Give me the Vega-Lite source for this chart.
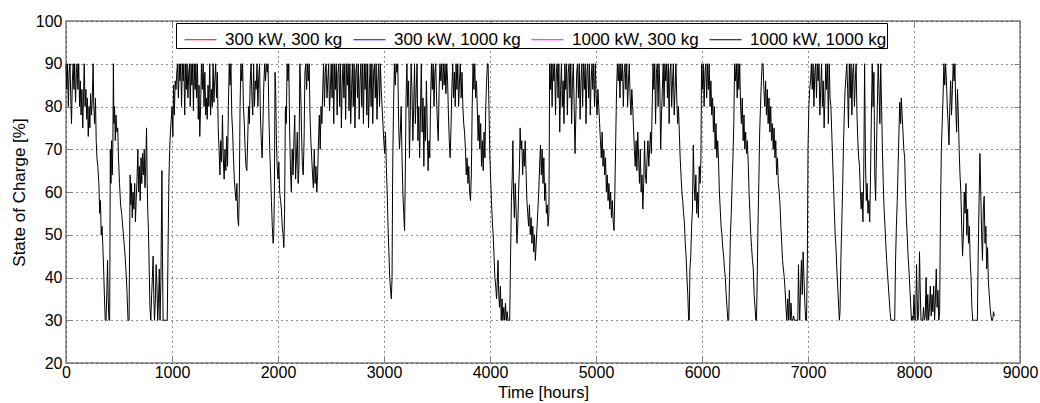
{
  "$schema": "https://vega.github.io/schema/vega-lite/v6.json",
  "width": 954,
  "height": 342,
  "autosize": {"type": "none"},
  "padding": {"left": 66, "top": 21, "right": 20, "bottom": 40},
  "background": "white",
  "config": {
    "view": {"stroke": "#808080", "strokeWidth": 1.5},
    "font": "Liberation Sans"
  },
  "data": {"values": [
{"t":0,"v":90},{"t":8,"v":84},{"t":15,"v":90},{"t":22,"v":80},{"t":30,"v":88},{"t":38,"v":90},{"t":45,"v":82},{"t":52,"v":76},{"t":60,"v":86},{"t":68,"v":90},{"t":75,"v":84},{"t":82,"v":90},{"t":90,"v":81},{"t":98,"v":88},{"t":105,"v":90},{"t":112,"v":84},{"t":120,"v":90},{"t":128,"v":80},{"t":135,"v":86},{"t":142,"v":78},{"t":150,"v":84},{"t":158,"v":75},{"t":165,"v":82},{"t":172,"v":90},{"t":180,"v":80},{"t":188,"v":84},{"t":195,"v":77},{"t":202,"v":82},{"t":210,"v":73},{"t":218,"v":80},{"t":225,"v":75},{"t":232,"v":83},{"t":240,"v":78},{"t":248,"v":82},{"t":256,"v":90},{"t":262,"v":80},{"t":270,"v":76},{"t":278,"v":82},{"t":285,"v":72},{"t":292,"v":68},{"t":300,"v":66},{"t":310,"v":62},{"t":318,"v":55},{"t":325,"v":58},{"t":332,"v":50},{"t":340,"v":52},{"t":348,"v":47},{"t":355,"v":42},{"t":362,"v":36},{"t":370,"v":30},{"t":378,"v":30},{"t":386,"v":37},{"t":392,"v":44},{"t":398,"v":35},{"t":405,"v":30},{"t":412,"v":30},{"t":418,"v":70},{"t":424,"v":62},{"t":430,"v":72},{"t":436,"v":64},{"t":442,"v":70},{"t":447,"v":90},{"t":452,"v":76},{"t":458,"v":80},{"t":465,"v":72},{"t":472,"v":78},{"t":480,"v":74},{"t":488,"v":75},{"t":495,"v":68},{"t":505,"v":62},{"t":515,"v":57},{"t":525,"v":55},{"t":535,"v":52},{"t":545,"v":49},{"t":555,"v":46},{"t":565,"v":42},{"t":575,"v":37},{"t":585,"v":30},{"t":595,"v":30},{"t":605,"v":64},{"t":612,"v":57},{"t":618,"v":62},{"t":625,"v":54},{"t":632,"v":60},{"t":640,"v":56},{"t":648,"v":62},{"t":655,"v":53},{"t":662,"v":58},{"t":670,"v":63},{"t":678,"v":70},{"t":685,"v":60},{"t":692,"v":66},{"t":700,"v":58},{"t":708,"v":68},{"t":715,"v":62},{"t":722,"v":69},{"t":730,"v":64},{"t":738,"v":70},{"t":745,"v":61},{"t":752,"v":66},{"t":760,"v":75},{"t":766,"v":62},{"t":772,"v":55},{"t":778,"v":51},{"t":785,"v":42},{"t":792,"v":33},{"t":800,"v":30},{"t":808,"v":36},{"t":815,"v":40},{"t":822,"v":45},{"t":828,"v":36},{"t":835,"v":30},{"t":842,"v":34},{"t":850,"v":43},{"t":858,"v":38},{"t":865,"v":30},{"t":872,"v":34},{"t":880,"v":42},{"t":887,"v":30},{"t":895,"v":39},{"t":905,"v":65},{"t":910,"v":45},{"t":916,"v":30},{"t":925,"v":30},{"t":935,"v":30},{"t":945,"v":30},{"t":955,"v":30},{"t":962,"v":45},{"t":970,"v":62},{"t":978,"v":70},{"t":985,"v":74},{"t":993,"v":77},{"t":1000,"v":80},{"t":1008,"v":73},{"t":1015,"v":85},{"t":1022,"v":78},{"t":1030,"v":86},{"t":1038,"v":84},{"t":1045,"v":88},{"t":1052,"v":90},{"t":1060,"v":82},{"t":1068,"v":90},{"t":1075,"v":86},{"t":1082,"v":90},
{"t":1090,"v":80},{"t":1098,"v":90},{"t":1105,"v":86},{"t":1112,"v":90},{"t":1120,"v":78},{"t":1128,"v":90},{"t":1135,"v":84},{"t":1142,"v":90},{"t":1150,"v":82},{"t":1158,"v":88},{"t":1165,"v":90},{"t":1172,"v":80},{"t":1180,"v":90},{"t":1188,"v":85},{"t":1195,"v":90},{"t":1202,"v":79},{"t":1210,"v":90},{"t":1218,"v":84},{"t":1225,"v":90},{"t":1232,"v":82},{"t":1240,"v":90},{"t":1248,"v":77},{"t":1255,"v":85},{"t":1262,"v":73},{"t":1270,"v":80},{"t":1278,"v":90},{"t":1286,"v":84},{"t":1294,"v":90},{"t":1302,"v":80},{"t":1310,"v":88},{"t":1318,"v":78},{"t":1325,"v":82},{"t":1332,"v":77},{"t":1340,"v":85},{"t":1348,"v":80},{"t":1356,"v":90},{"t":1364,"v":78},{"t":1372,"v":84},{"t":1380,"v":80},{"t":1388,"v":90},{"t":1396,"v":81},{"t":1404,"v":86},{"t":1412,"v":90},{"t":1420,"v":82},{"t":1428,"v":88},{"t":1436,"v":75},{"t":1444,"v":70},{"t":1452,"v":64},{"t":1460,"v":72},{"t":1468,"v":67},{"t":1476,"v":78},{"t":1484,"v":68},{"t":1492,"v":63},{"t":1500,"v":70},{"t":1508,"v":65},{"t":1516,"v":73},{"t":1524,"v":66},{"t":1532,"v":80},{"t":1540,"v":90},{"t":1548,"v":85},{"t":1556,"v":90},{"t":1564,"v":78},{"t":1572,"v":74},{"t":1580,"v":68},{"t":1588,"v":63},{"t":1596,"v":60},{"t":1604,"v":58},{"t":1612,"v":62},{"t":1620,"v":54},{"t":1628,"v":52},{"t":1635,"v":60},{"t":1642,"v":80},{"t":1650,"v":90},{"t":1658,"v":86},{"t":1666,"v":90},{"t":1674,"v":80},{"t":1682,"v":76},{"t":1690,"v":70},{"t":1698,"v":66},{"t":1706,"v":65},{"t":1714,"v":72},{"t":1722,"v":80},{"t":1730,"v":76},{"t":1738,"v":86},{"t":1746,"v":90},{"t":1754,"v":82},{"t":1762,"v":78},{"t":1770,"v":90},{"t":1778,"v":80},{"t":1786,"v":86},{"t":1794,"v":84},{"t":1802,"v":90},{"t":1810,"v":80},{"t":1818,"v":87},{"t":1826,"v":90},{"t":1834,"v":78},{"t":1842,"v":72},{"t":1850,"v":68},{"t":1858,"v":76},{"t":1866,"v":85},{"t":1874,"v":90},{"t":1882,"v":86},{"t":1890,"v":90},{"t":1898,"v":88},{"t":1906,"v":90},{"t":1914,"v":78},{"t":1922,"v":70},{"t":1930,"v":64},{"t":1938,"v":58},{"t":1946,"v":52},{"t":1954,"v":48},{"t":1960,"v":50},{"t":1966,"v":60},{"t":1972,"v":88},{"t":1978,"v":84},{"t":1985,"v":72},{"t":1992,"v":66},{"t":2000,"v":63},{"t":2008,"v":67},{"t":2016,"v":60},{"t":2024,"v":58},{"t":2032,"v":56},{"t":2040,"v":52},{"t":2048,"v":50},{"t":2055,"v":47},{"t":2062,"v":55},{"t":2070,"v":80},{"t":2078,"v":76},{"t":2086,"v":90},{"t":2094,"v":86},{"t":2102,"v":90},{"t":2110,"v":74},{"t":2118,"v":65},{"t":2126,"v":60},{"t":2134,"v":70},{"t":2142,"v":64},{"t":2150,"v":72},{"t":2158,"v":78},{"t":2166,"v":63},{"t":2174,"v":68},{"t":2182,"v":74},{"t":2190,"v":62},{"t":2198,"v":66},{"t":2206,"v":90},{"t":2214,"v":84},{"t":2222,"v":74},{"t":2230,"v":66},{"t":2238,"v":64},{"t":2246,"v":72},{"t":2254,"v":88},{"t":2262,"v":90},{"t":2270,"v":84},{"t":2278,"v":90},{"t":2286,"v":86},{"t":2294,"v":90},{"t":2302,"v":78},{"t":2310,"v":72},{"t":2318,"v":68},{"t":2326,"v":64},{"t":2334,"v":61},{"t":2342,"v":70},{"t":2350,"v":62},{"t":2358,"v":66},{"t":2366,"v":60},{"t":2374,"v":64},{"t":2382,"v":72},{"t":2390,"v":78},{"t":2398,"v":70},{"t":2406,"v":80},{"t":2414,"v":76},{"t":2422,"v":84},{"t":2430,"v":90},{"t":2438,"v":80},{"t":2446,"v":88},{"t":2454,"v":90},{"t":2462,"v":82},{"t":2470,"v":86},{"t":2478,"v":90},{"t":2486,"v":79},{"t":2494,"v":84},{"t":2502,"v":90},
{"t":2510,"v":82},{"t":2518,"v":90},{"t":2526,"v":76},{"t":2534,"v":90},{"t":2542,"v":84},{"t":2550,"v":90},{"t":2558,"v":78},{"t":2566,"v":88},{"t":2574,"v":90},{"t":2582,"v":80},{"t":2590,"v":90},{"t":2598,"v":75},{"t":2606,"v":86},{"t":2614,"v":90},{"t":2622,"v":82},{"t":2630,"v":90},{"t":2638,"v":77},{"t":2646,"v":90},{"t":2654,"v":85},{"t":2662,"v":90},{"t":2670,"v":79},{"t":2678,"v":90},{"t":2686,"v":76},{"t":2694,"v":84},{"t":2702,"v":90},{"t":2710,"v":80},{"t":2718,"v":90},{"t":2726,"v":75},{"t":2734,"v":88},{"t":2742,"v":90},{"t":2750,"v":82},{"t":2758,"v":90},{"t":2766,"v":77},{"t":2774,"v":86},{"t":2782,"v":90},{"t":2790,"v":80},{"t":2798,"v":90},{"t":2806,"v":76},{"t":2814,"v":90},{"t":2822,"v":84},{"t":2830,"v":90},{"t":2838,"v":78},{"t":2846,"v":90},{"t":2854,"v":75},{"t":2862,"v":84},{"t":2870,"v":90},{"t":2878,"v":80},{"t":2886,"v":90},{"t":2894,"v":76},{"t":2902,"v":88},{"t":2910,"v":90},{"t":2918,"v":82},{"t":2926,"v":90},{"t":2934,"v":77},{"t":2942,"v":86},{"t":2950,"v":90},{"t":2958,"v":80},{"t":2966,"v":90},{"t":2974,"v":84},{"t":2982,"v":80},{"t":2990,"v":76},{"t":2998,"v":72},{"t":3006,"v":69},{"t":3014,"v":74},{"t":3022,"v":66},{"t":3030,"v":60},{"t":3038,"v":52},{"t":3046,"v":46},{"t":3054,"v":40},{"t":3062,"v":37},{"t":3069,"v":35},{"t":3076,"v":40},{"t":3082,"v":66},{"t":3090,"v":80},{"t":3098,"v":90},{"t":3106,"v":85},{"t":3114,"v":90},{"t":3122,"v":88},{"t":3130,"v":90},{"t":3138,"v":76},{"t":3146,"v":70},{"t":3154,"v":74},{"t":3162,"v":80},{"t":3170,"v":68},{"t":3178,"v":60},{"t":3186,"v":55},{"t":3194,"v":51},{"t":3200,"v":62},{"t":3208,"v":82},{"t":3216,"v":90},{"t":3224,"v":80},{"t":3232,"v":86},{"t":3240,"v":68},{"t":3248,"v":78},{"t":3256,"v":90},{"t":3264,"v":84},{"t":3272,"v":72},{"t":3280,"v":80},{"t":3288,"v":90},{"t":3296,"v":76},{"t":3304,"v":84},{"t":3312,"v":90},{"t":3320,"v":72},{"t":3328,"v":80},{"t":3336,"v":68},{"t":3344,"v":78},{"t":3352,"v":90},{"t":3360,"v":74},{"t":3368,"v":82},{"t":3376,"v":66},{"t":3384,"v":80},{"t":3392,"v":72},{"t":3400,"v":86},{"t":3408,"v":75},{"t":3416,"v":65},{"t":3424,"v":72},{"t":3432,"v":68},{"t":3440,"v":82},{"t":3448,"v":90},{"t":3456,"v":84},{"t":3464,"v":90},{"t":3472,"v":80},{"t":3480,"v":88},{"t":3488,"v":90},{"t":3496,"v":82},{"t":3504,"v":76},{"t":3512,"v":72},{"t":3520,"v":84},{"t":3528,"v":90},{"t":3536,"v":86},{"t":3544,"v":90},{"t":3552,"v":84},{"t":3560,"v":90},{"t":3568,"v":85},{"t":3576,"v":90},{"t":3584,"v":83},{"t":3592,"v":90},{"t":3600,"v":86},{"t":3608,"v":78},{"t":3616,"v":72},{"t":3624,"v":68},{"t":3632,"v":75},{"t":3640,"v":84},{"t":3648,"v":90},{"t":3656,"v":82},{"t":3664,"v":88},{"t":3672,"v":80},{"t":3680,"v":90},{"t":3688,"v":84},{"t":3696,"v":90},{"t":3704,"v":80},{"t":3712,"v":86},{"t":3720,"v":90},{"t":3728,"v":82},{"t":3736,"v":88},{"t":3744,"v":80},{"t":3752,"v":76},{"t":3760,"v":74},{"t":3768,"v":70},{"t":3776,"v":64},{"t":3784,"v":68},{"t":3792,"v":62},{"t":3800,"v":66},{"t":3808,"v":60},{"t":3816,"v":58},{"t":3824,"v":64},{"t":3832,"v":80},{"t":3840,"v":90},{"t":3848,"v":84},{"t":3856,"v":90},{"t":3864,"v":82},{"t":3872,"v":86},{"t":3880,"v":80},{"t":3888,"v":72},{"t":3896,"v":78},{"t":3904,"v":70},{"t":3912,"v":76},{"t":3920,"v":66},{"t":3928,"v":72},{"t":3936,"v":65},{"t":3944,"v":74},{"t":3952,"v":68},{"t":3960,"v":80},{"t":3968,"v":86},{"t":3976,"v":90},{"t":3982,"v":90},{"t":3990,"v":80},{"t":3998,"v":69},{"t":4006,"v":63},{"t":4014,"v":58},{"t":4022,"v":53},{"t":4030,"v":50},{"t":4038,"v":45},{"t":4046,"v":40},{"t":4054,"v":38},{"t":4062,"v":35},{"t":4070,"v":40},{"t":4076,"v":44},{"t":4082,"v":36},{"t":4090,"v":33},{"t":4098,"v":38},{"t":4106,"v":30},{"t":4114,"v":35},{"t":4122,"v":30},{"t":4130,"v":33},{"t":4138,"v":30},{"t":4146,"v":34},{"t":4154,"v":30},{"t":4162,"v":32},{"t":4170,"v":30},{"t":4178,"v":30},{"t":4186,"v":30},{"t":4194,"v":45},{"t":4202,"v":58},{"t":4210,"v":64},{"t":4216,"v":72},{"t":4222,"v":60},{"t":4230,"v":54},{"t":4238,"v":62},{"t":4246,"v":56},{"t":4254,"v":48},{"t":4262,"v":52},{"t":4270,"v":60},{"t":4278,"v":66},{"t":4284,"v":75},{"t":4292,"v":70},{"t":4300,"v":72},{"t":4308,"v":64},{"t":4316,"v":70},{"t":4324,"v":66},{"t":4332,"v":72},{"t":4340,"v":65},{"t":4348,"v":58},{"t":4356,"v":55},{"t":4364,"v":52},{"t":4372,"v":57},{"t":4380,"v":50},{"t":4388,"v":54},{"t":4396,"v":48},{"t":4404,"v":52},{"t":4412,"v":46},{"t":4420,"v":50},{"t":4428,"v":44},{"t":4436,"v":48},{"t":4444,"v":52},{"t":4452,"v":56},{"t":4460,"v":60},{"t":4468,"v":66},{"t":4476,"v":71},{"t":4484,"v":64},{"t":4492,"v":70},{"t":4500,"v":62},{"t":4508,"v":68},{"t":4516,"v":58},{"t":4524,"v":62},{"t":4532,"v":55},{"t":4540,"v":57},{"t":4548,"v":52},{"t":4556,"v":55},
{"t":4563,"v":90},{"t":4570,"v":84},{"t":4578,"v":90},{"t":4586,"v":80},{"t":4594,"v":90},{"t":4602,"v":86},{"t":4610,"v":90},{"t":4618,"v":78},{"t":4626,"v":88},{"t":4634,"v":90},{"t":4642,"v":82},{"t":4650,"v":90},{"t":4658,"v":74},{"t":4666,"v":84},{"t":4674,"v":90},{"t":4682,"v":80},{"t":4690,"v":86},{"t":4698,"v":76},{"t":4706,"v":90},{"t":4714,"v":84},{"t":4722,"v":90},{"t":4730,"v":78},{"t":4738,"v":88},{"t":4746,"v":90},{"t":4754,"v":82},{"t":4762,"v":90},{"t":4770,"v":76},{"t":4778,"v":86},{"t":4786,"v":90},{"t":4794,"v":80},{"t":4802,"v":69},{"t":4810,"v":78},{"t":4818,"v":88},{"t":4826,"v":90},{"t":4834,"v":82},{"t":4842,"v":90},{"t":4850,"v":77},{"t":4858,"v":86},{"t":4866,"v":90},{"t":4874,"v":80},{"t":4882,"v":90},{"t":4890,"v":84},{"t":4898,"v":90},{"t":4906,"v":76},{"t":4914,"v":88},{"t":4922,"v":90},{"t":4930,"v":82},{"t":4938,"v":90},{"t":4946,"v":78},{"t":4954,"v":86},{"t":4962,"v":90},{"t":4970,"v":84},{"t":4978,"v":90},{"t":4986,"v":80},{"t":4994,"v":90},{"t":5002,"v":82},{"t":5010,"v":78},{"t":5018,"v":84},{"t":5026,"v":80},{"t":5034,"v":76},{"t":5042,"v":72},{"t":5050,"v":68},{"t":5058,"v":74},{"t":5066,"v":66},{"t":5074,"v":70},{"t":5082,"v":64},{"t":5090,"v":68},{"t":5098,"v":60},{"t":5106,"v":64},{"t":5114,"v":58},{"t":5122,"v":62},{"t":5130,"v":56},{"t":5138,"v":60},{"t":5146,"v":54},{"t":5154,"v":58},{"t":5162,"v":53},{"t":5170,"v":51},{"t":5178,"v":60},{"t":5186,"v":72},{"t":5194,"v":84},{"t":5202,"v":90},{"t":5210,"v":86},{"t":5218,"v":90},{"t":5226,"v":82},{"t":5234,"v":90},{"t":5242,"v":86},{"t":5250,"v":90},{"t":5258,"v":80},{"t":5266,"v":88},{"t":5274,"v":90},{"t":5282,"v":84},{"t":5290,"v":90},{"t":5298,"v":80},{"t":5306,"v":86},{"t":5314,"v":90},{"t":5322,"v":82},{"t":5330,"v":78},{"t":5338,"v":84},{"t":5346,"v":80},{"t":5354,"v":75},{"t":5362,"v":70},{"t":5370,"v":66},{"t":5378,"v":72},{"t":5386,"v":65},{"t":5394,"v":74},{"t":5402,"v":68},{"t":5410,"v":62},{"t":5418,"v":70},{"t":5426,"v":60},{"t":5434,"v":64},{"t":5442,"v":56},{"t":5450,"v":62},{"t":5458,"v":72},{"t":5466,"v":64},{"t":5474,"v":62},{"t":5482,"v":68},{"t":5490,"v":72},{"t":5498,"v":66},{"t":5506,"v":70},{"t":5514,"v":74},{"t":5522,"v":69},{"t":5530,"v":80},{"t":5538,"v":90},{"t":5546,"v":84},{"t":5554,"v":90},{"t":5562,"v":76},{"t":5570,"v":88},{"t":5578,"v":90},{"t":5586,"v":80},{"t":5594,"v":90},{"t":5602,"v":85},{"t":5610,"v":70},{"t":5618,"v":78},{"t":5626,"v":84},{"t":5634,"v":90},{"t":5642,"v":80},{"t":5650,"v":90},{"t":5658,"v":86},{"t":5666,"v":90},{"t":5674,"v":82},{"t":5682,"v":90},{"t":5690,"v":76},{"t":5698,"v":88},{"t":5706,"v":90},{"t":5714,"v":80},{"t":5722,"v":86},{"t":5730,"v":90},{"t":5738,"v":78},{"t":5746,"v":84},{"t":5754,"v":90},{"t":5762,"v":82},{"t":5770,"v":76},{"t":5778,"v":80},{"t":5786,"v":74},{"t":5794,"v":68},{"t":5802,"v":64},{"t":5810,"v":60},{"t":5818,"v":58},{"t":5826,"v":55},{"t":5834,"v":53},{"t":5842,"v":48},{"t":5850,"v":45},{"t":5858,"v":40},{"t":5866,"v":36},{"t":5874,"v":30},{"t":5880,"v":30},{"t":5886,"v":42},{"t":5894,"v":45},{"t":5902,"v":52},{"t":5910,"v":56},{"t":5918,"v":71},{"t":5926,"v":62},{"t":5934,"v":58},{"t":5942,"v":64},{"t":5950,"v":55},{"t":5958,"v":60},{"t":5966,"v":54},{"t":5974,"v":66},{"t":5982,"v":62},{"t":5990,"v":68},{"t":5996,"v":90},
{"t":6004,"v":84},{"t":6012,"v":90},{"t":6020,"v":80},{"t":6028,"v":88},{"t":6036,"v":90},{"t":6044,"v":82},{"t":6052,"v":90},{"t":6060,"v":84},{"t":6068,"v":90},{"t":6076,"v":80},{"t":6084,"v":86},{"t":6092,"v":78},{"t":6100,"v":82},{"t":6108,"v":74},{"t":6116,"v":80},{"t":6124,"v":70},{"t":6132,"v":76},{"t":6140,"v":68},{"t":6148,"v":72},{"t":6156,"v":67},{"t":6164,"v":60},{"t":6172,"v":56},{"t":6180,"v":52},{"t":6188,"v":50},{"t":6196,"v":47},{"t":6204,"v":45},{"t":6212,"v":42},{"t":6220,"v":40},{"t":6228,"v":36},{"t":6236,"v":33},{"t":6244,"v":30},{"t":6252,"v":30},{"t":6260,"v":40},{"t":6268,"v":50},{"t":6276,"v":55},{"t":6284,"v":62},{"t":6292,"v":68},{"t":6300,"v":76},{"t":6308,"v":90},{"t":6316,"v":86},{"t":6324,"v":90},{"t":6332,"v":82},{"t":6340,"v":90},{"t":6348,"v":84},{"t":6356,"v":90},{"t":6364,"v":80},{"t":6372,"v":76},{"t":6380,"v":82},{"t":6388,"v":72},{"t":6396,"v":78},{"t":6404,"v":70},{"t":6412,"v":74},{"t":6420,"v":69},{"t":6428,"v":72},{"t":6436,"v":67},{"t":6444,"v":60},{"t":6452,"v":55},{"t":6460,"v":50},{"t":6468,"v":47},{"t":6476,"v":44},{"t":6484,"v":42},{"t":6492,"v":36},{"t":6500,"v":33},{"t":6508,"v":30},{"t":6514,"v":30},{"t":6520,"v":38},{"t":6528,"v":52},{"t":6536,"v":62},{"t":6544,"v":74},{"t":6552,"v":80},{"t":6560,"v":86},{"t":6568,"v":90},{"t":6576,"v":90},{"t":6584,"v":84},{"t":6592,"v":80},{"t":6600,"v":86},{"t":6608,"v":78},{"t":6616,"v":84},{"t":6624,"v":76},{"t":6632,"v":82},{"t":6640,"v":74},{"t":6648,"v":80},{"t":6656,"v":72},{"t":6664,"v":76},{"t":6672,"v":70},{"t":6680,"v":75},{"t":6688,"v":68},{"t":6696,"v":72},{"t":6704,"v":64},{"t":6712,"v":68},{"t":6720,"v":62},{"t":6728,"v":60},{"t":6736,"v":57},{"t":6744,"v":52},{"t":6752,"v":48},{"t":6760,"v":44},{"t":6768,"v":42},{"t":6776,"v":40},{"t":6784,"v":37},{"t":6792,"v":33},{"t":6800,"v":30},{"t":6808,"v":35},{"t":6816,"v":30},{"t":6824,"v":37},{"t":6832,"v":30},{"t":6840,"v":34},{"t":6848,"v":30},{"t":6856,"v":30},{"t":6864,"v":31},{"t":6872,"v":30},{"t":6880,"v":30},{"t":6888,"v":30},{"t":6896,"v":30},{"t":6904,"v":30},{"t":6910,"v":43},{"t":6916,"v":35},{"t":6922,"v":30},{"t":6930,"v":38},{"t":6938,"v":44},{"t":6946,"v":36},{"t":6954,"v":46},{"t":6962,"v":40},{"t":6970,"v":34},{"t":6978,"v":30},{"t":6986,"v":30},{"t":6994,"v":45},{"t":7000,"v":70},{"t":7008,"v":80},{"t":7016,"v":84},{"t":7024,"v":86},{"t":7032,"v":90},{"t":7040,"v":84},{"t":7048,"v":90},{"t":7056,"v":80},{"t":7064,"v":88},{"t":7072,"v":90},{"t":7080,"v":82},{"t":7088,"v":90},{"t":7096,"v":86},{"t":7104,"v":90},{"t":7112,"v":78},{"t":7120,"v":84},{"t":7128,"v":90},{"t":7136,"v":80},{"t":7144,"v":86},{"t":7152,"v":75},{"t":7160,"v":82},{"t":7168,"v":90},{"t":7176,"v":84},{"t":7184,"v":90},{"t":7192,"v":76},{"t":7200,"v":90},{"t":7208,"v":82},{"t":7216,"v":80},{"t":7224,"v":74},{"t":7232,"v":68},{"t":7240,"v":62},{"t":7248,"v":56},{"t":7256,"v":50},{"t":7264,"v":47},{"t":7272,"v":42},{"t":7280,"v":38},{"t":7288,"v":34},{"t":7296,"v":30},{"t":7302,"v":32},{"t":7310,"v":44},{"t":7318,"v":52},{"t":7326,"v":60},{"t":7334,"v":70},{"t":7342,"v":78},{"t":7350,"v":84},{"t":7358,"v":87},{"t":7366,"v":90},{"t":7374,"v":84},{"t":7382,"v":75},{"t":7390,"v":90},{"t":7398,"v":82},{"t":7406,"v":90},{"t":7414,"v":78},{"t":7422,"v":88},{"t":7430,"v":90},{"t":7438,"v":80},{"t":7446,"v":86},{"t":7454,"v":90},{"t":7462,"v":78},{"t":7470,"v":72},{"t":7478,"v":68},{"t":7486,"v":66},{"t":7494,"v":60},{"t":7502,"v":56},{"t":7510,"v":60},{"t":7518,"v":53},{"t":7526,"v":64},{"t":7534,"v":90},{"t":7542,"v":68},{"t":7550,"v":58},{"t":7558,"v":62},{"t":7566,"v":55},{"t":7574,"v":58},{"t":7582,"v":53},{"t":7590,"v":64},{"t":7598,"v":78},{"t":7606,"v":90},{"t":7614,"v":80},{"t":7622,"v":88},{"t":7630,"v":64},{"t":7638,"v":58},{"t":7646,"v":70},{"t":7654,"v":80},{"t":7662,"v":90},{"t":7670,"v":84},{"t":7678,"v":76},{"t":7686,"v":90},{"t":7694,"v":80},{"t":7702,"v":70},{"t":7710,"v":62},{"t":7718,"v":56},{"t":7726,"v":52},{"t":7734,"v":48},{"t":7742,"v":44},{"t":7750,"v":41},{"t":7758,"v":38},{"t":7766,"v":35},{"t":7774,"v":32},{"t":7782,"v":30},{"t":7790,"v":30},{"t":7800,"v":30},{"t":7810,"v":30},{"t":7818,"v":30},{"t":7826,"v":44},{"t":7834,"v":52},{"t":7842,"v":58},{"t":7850,"v":66},{"t":7858,"v":74},{"t":7866,"v":81},{"t":7874,"v":76},{"t":7880,"v":82},{"t":7888,"v":78},{"t":7896,"v":74},{"t":7904,"v":70},{"t":7912,"v":68},{"t":7920,"v":60},{"t":7928,"v":54},{"t":7936,"v":50},{"t":7944,"v":45},{"t":7952,"v":42},{"t":7960,"v":38},{"t":7968,"v":34},{"t":7976,"v":30},{"t":7984,"v":31},{"t":7992,"v":30},{"t":8000,"v":36},{"t":8008,"v":30},{"t":8016,"v":30},{"t":8024,"v":43},{"t":8030,"v":35},{"t":8036,"v":30},{"t":8044,"v":32},{"t":8052,"v":46},{"t":8058,"v":38},{"t":8066,"v":30},{"t":8074,"v":30},{"t":8082,"v":30},{"t":8090,"v":33},{"t":8098,"v":30},{"t":8106,"v":31},{"t":8114,"v":40},{"t":8122,"v":30},{"t":8130,"v":36},{"t":8138,"v":30},{"t":8146,"v":33},{"t":8154,"v":38},{"t":8162,"v":31},{"t":8170,"v":36},{"t":8178,"v":32},{"t":8186,"v":38},{"t":8194,"v":30},{"t":8202,"v":35},{"t":8210,"v":42},{"t":8218,"v":33},{"t":8226,"v":37},{"t":8234,"v":30},{"t":8242,"v":32},{"t":8250,"v":56},{"t":8258,"v":70},{"t":8266,"v":76},{"t":8274,"v":82},{"t":8282,"v":90},{"t":8290,"v":85},{"t":8298,"v":90},{"t":8306,"v":86},{"t":8314,"v":80},{"t":8322,"v":76},{"t":8330,"v":71},{"t":8338,"v":80},{"t":8346,"v":86},{"t":8354,"v":78},{"t":8362,"v":84},{"t":8370,"v":90},{"t":8378,"v":86},{"t":8386,"v":90},{"t":8394,"v":80},{"t":8402,"v":74},{"t":8410,"v":84},{"t":8418,"v":78},{"t":8426,"v":70},{"t":8434,"v":64},{"t":8442,"v":60},{"t":8450,"v":52},{"t":8458,"v":45},{"t":8466,"v":50},{"t":8474,"v":60},{"t":8482,"v":55},{"t":8490,"v":62},{"t":8498,"v":50},{"t":8506,"v":56},{"t":8514,"v":48},{"t":8522,"v":52},{"t":8530,"v":44},{"t":8538,"v":40},{"t":8546,"v":33},{"t":8554,"v":30},{"t":8562,"v":30},{"t":8570,"v":30},{"t":8580,"v":30},{"t":8590,"v":30},{"t":8598,"v":30},{"t":8606,"v":46},{"t":8614,"v":58},{"t":8622,"v":69},{"t":8630,"v":60},{"t":8638,"v":50},{"t":8646,"v":44},{"t":8654,"v":56},{"t":8662,"v":59},{"t":8670,"v":48},{"t":8678,"v":52},{"t":8686,"v":42},{"t":8694,"v":47},{"t":8702,"v":39},{"t":8710,"v":36},{"t":8718,"v":33},{"t":8726,"v":31},{"t":8734,"v":30},{"t":8742,"v":30},{"t":8750,"v":32},{"t":8758,"v":31}
  ]},
  "layer": [
    {
      "mark": {"type": "line", "strokeWidth": 1, "interpolate": "linear"},
      "encoding": {
        "x": {
          "field": "t", "type": "quantitative",
          "scale": {"domain": [0, 9000], "nice": false, "zero": false},
          "axis": {
            "orient": "bottom",
            "values": [0,1000,2000,3000,4000,5000,6000,7000,8000,9000],
            "format": "d",
            "grid": true, "gridColor": "#000000", "gridDash": [1, 4], "gridWidth": 1, "gridOpacity": 0.9,
            "domain": false, "labelFlush": false, "labelOverlap": false,
            "ticks": true, "tickSize": -6, "tickColor": "#808080", "tickWidth": 1,
            "labelPadding": 7, "labelFontSize": 16, "labelColor": "#000000", "labelFont": "Liberation Sans",
            "title": "Time [hours]", "titleFontSize": 16.5, "titleFontWeight": "normal", "titleColor": "#000000",
            "titleFont": "Liberation Sans", "titlePadding": 4
          }
        },
        "y": {
          "field": "v", "type": "quantitative",
          "scale": {"domain": [20, 100], "nice": false, "zero": false},
          "axis": {
            "orient": "left",
            "values": [20,30,40,50,60,70,80,90,100],
            "grid": true, "gridColor": "#000000", "gridDash": [1, 4], "gridWidth": 1, "gridOpacity": 0.9,
            "domain": false, "labelFlush": false, "labelOverlap": false,
            "ticks": true, "tickSize": -6, "tickColor": "#808080", "tickWidth": 1,
            "labelPadding": 10, "labelFontSize": 16, "labelColor": "#000000", "labelFont": "Liberation Sans",
            "title": "State of Charge [%]", "titleFontSize": 17, "titleFontWeight": "normal", "titleColor": "#000000",
            "titleFont": "Liberation Sans", "titlePadding": 7
          }
        },
        "color": {
          "datum": "1000 kW, 1000 kg",
          "type": "nominal",
          "scale": {
            "domain": ["300 kW, 300 kg", "300 kW, 1000 kg", "1000 kW, 300 kg", "1000 kW, 1000 kg"],
            "range": ["#ff0000", "#0000ff", "#ff00ff", "#000000"]
          },
          "legend": {
            "title": null,
            "orient": "none",
            "legendX": 110,
            "legendY": 2,
            "direction": "horizontal",
            "columns": 4,
            "symbolType": "stroke",
            "symbolSize": 1024,
            "symbolStrokeWidth": 1,
            "symbolOffset": 8,
            "labelFontSize": 17,
            "labelFont": "Liberation Sans",
            "labelColor": "#000000",
            "labelOffset": 8,
            "labelLimit": 400,
            "columnPadding": 2,
            "padding": 0,
            "strokeColor": "#000000",
            "fillColor": "#ffffff",
            "offset": 0
          }
        }
      }
    },
    {
      "mark": {"type": "point", "opacity": 0},
      "encoding": {
        "x": {
          "field": "t", "type": "quantitative",
          "axis": {
            "orient": "top",
            "values": [0,1000,2000,3000,4000,5000,6000,7000,8000,9000],
            "labels": false, "grid": false, "domain": false, "title": null,
            "tickSize": -6, "tickColor": "#808080", "tickWidth": 1
          }
        },
        "y": {
          "field": "v", "type": "quantitative",
          "axis": {
            "orient": "right",
            "values": [20,30,40,50,60,70,80,90,100],
            "labels": false, "grid": false, "domain": false, "title": null,
            "tickSize": -6, "tickColor": "#808080", "tickWidth": 1
          }
        }
      }
    }
  ],
  "resolve": {"axis": {"x": "independent", "y": "independent"}}
}
